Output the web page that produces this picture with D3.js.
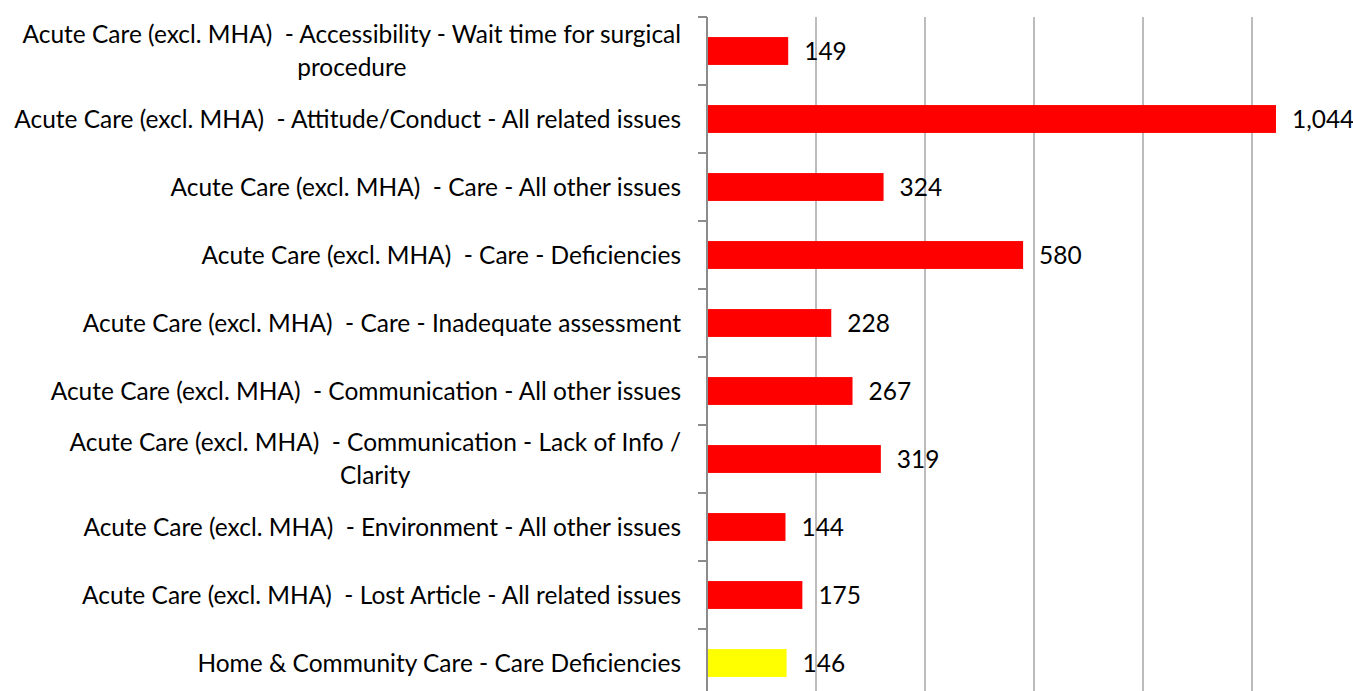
<!DOCTYPE html>
<html>
<head>
<meta charset="utf-8">
<script src="https://cdnjs.cloudflare.com/ajax/libs/d3/7.8.5/d3.min.js"></script>
<style>
  html, body { margin: 0; padding: 0; background: #fff; }
  svg text { font-family: Lato, "Open Sans", sans-serif; white-space: pre; fill: #000; }
</style>
</head>
<body>
<svg id="chart" width="1353" height="691"></svg>
<script>
// categories, top to bottom
var categories = [
  "Acute Care (excl. MHA)  - Accessibility - Wait time for surgical procedure",
  "Acute Care (excl. MHA)  - Attitude/Conduct - All related issues",
  "Acute Care (excl. MHA)  - Care - All other issues",
  "Acute Care (excl. MHA)  - Care - Deficiencies",
  "Acute Care (excl. MHA)  - Care - Inadequate assessment",
  "Acute Care (excl. MHA)  - Communication - All other issues",
  "Acute Care (excl. MHA)  - Communication - Lack of Info / Clarity",
  "Acute Care (excl. MHA)  - Environment - All other issues",
  "Acute Care (excl. MHA)  - Lost Article - All related issues",
  "Home & Community Care - Care Deficiencies"
];
var counts = [149, 1044, 324, 580, 228, 267, 319, 144, 175, 146];
var barColors = ["#ff0000", "#ff0000", "#ff0000", "#ff0000", "#ff0000",
                 "#ff0000", "#ff0000", "#ff0000", "#ff0000", "#ffff00"];
var gridTicks = [200, 400, 600, 800, 1000, 1200];

var svg = d3.select("#chart");
var margin = {left: 707, top: 17};
var plotW = 654, plotH = 680;

// pick a font size so the longest one-line label is as wide as in the picture
var probe = svg.append("text").style("font-size", "100px").text(categories[1]);
var fontSize = 100 * 667 / probe.node().getComputedTextLength();
probe.remove();
var wrapWidth = 675;

var x = d3.scaleLinear().domain([0, 1200]).range([margin.left, margin.left + plotW]);
var y = d3.scaleBand().domain(d3.range(categories.length))
          .range([margin.top, margin.top + plotH])
          .paddingInner(0.59).paddingOuter(0.295);
var band = d3.scaleBand().domain(d3.range(categories.length))
          .range([margin.top, margin.top + plotH]);

// gridlines
svg.append("g")
  .selectAll("line")
  .data(gridTicks)
  .join("line")
    .attr("x1", d => x(d)).attr("x2", d => x(d))
    .attr("y1", margin.top).attr("y2", 701)
    .attr("stroke", "#a0a0a0")
    .attr("stroke-width", 1.4);

// bars
svg.append("g")
  .selectAll("rect")
  .data(counts)
  .join("rect")
    .attr("x", x(0))
    .attr("y", (d, i) => y(i))
    .attr("width", d => x(d) - x(0))
    .attr("height", y.bandwidth())
    .attr("fill", (d, i) => barColors[i]);

// category axis: line plus small separators between categories
var gAxis = svg.append("g")
  .attr("transform", "translate(" + margin.left + ",0)");
gAxis.append("line")
  .attr("x1", 0).attr("x2", 0)
  .attr("y1", margin.top).attr("y2", 700)
  .attr("stroke", "#8c8c8c").attr("stroke-width", 2);
gAxis.selectAll(".sep")
  .data(d3.range(categories.length + 1))
  .join("line")
    .attr("class", "sep")
    .attr("x1", -9).attr("x2", 0)
    .attr("y1", i => margin.top + i * band.step())
    .attr("y2", i => margin.top + i * band.step())
    .attr("stroke", "#8c8c8c").attr("stroke-width", 2);

// category labels, wrapped and centred as a block, right-aligned to the axis
var measure = svg.append("text").style("font-size", fontSize + "px");
function textWidth(s) { measure.text(s); return measure.node().getComputedTextLength(); }
function wrap(s) {
  var words = s.split(" "), lines = [], cur = "";
  words.forEach(function(w) {
    var test = cur === "" ? w : cur + " " + w;
    if (cur !== "" && textWidth(test) > wrapWidth) { lines.push(cur); cur = w; }
    else cur = test;
  });
  lines.push(cur);
  return lines;
}
var lineH = 33;
var labelRight = 681;
categories.forEach(function(c, i) {
  var lines = wrap(c);
  var widest = d3.max(lines, textWidth);
  var cx = labelRight - widest / 2;
  var cy = band(i) + band.bandwidth() / 2 - 1.5;
  var t = svg.append("text")
    .attr("text-anchor", "middle")
    .attr("dominant-baseline", "central")
    .style("font-size", fontSize + "px");
  lines.forEach(function(l, k) {
    t.append("tspan")
      .attr("x", cx)
      .attr("y", cy + (k - (lines.length - 1) / 2) * lineH)
      .text(l);
  });
});
measure.remove();

// value labels
svg.append("g")
  .selectAll("text")
  .data(counts)
  .join("text")
    .attr("x", d => x(d) + 16)
    .attr("y", (d, i) => y(i) + y.bandwidth() / 2 - 1)
    .attr("dominant-baseline", "central")
    .style("font-size", fontSize + "px")
    .text(d3.format(","));
</script>
</body>
</html>
